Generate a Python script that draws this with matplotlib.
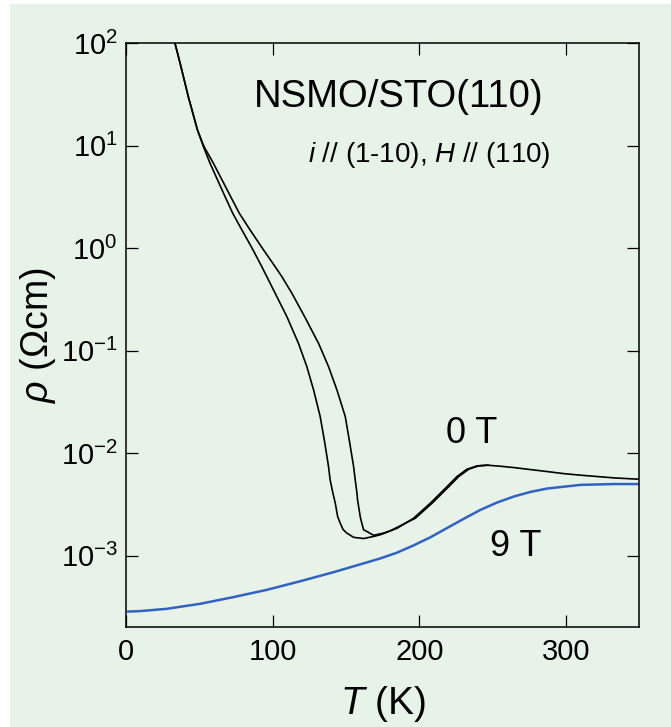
import math
import matplotlib
matplotlib.use("Agg")
import matplotlib.pyplot as plt
from matplotlib.patches import Rectangle
from matplotlib.ticker import FixedLocator, FuncFormatter, NullLocator

plt.rcParams['font.family'] = ['Liberation Sans', 'DejaVu Sans']
plt.rcParams['mathtext.fontset'] = 'custom'
plt.rcParams['mathtext.rm'] = 'Liberation Sans'
plt.rcParams['mathtext.it'] = 'Liberation Sans:italic'
plt.rcParams['mathtext.bf'] = 'Liberation Sans:bold'

# 0 T, branch with the lower transition temperature
t_0T_a = [33.4, 36.9, 42.5, 48.7, 52.8, 57.3, 67.6, 72.8, 79.0, 86.0, 92.6, 101.7, 109.7,
          117.6, 123.3, 127.9, 132.4, 135.4, 138.1, 139.2, 141.1, 142.7, 144.3, 146.1,
          148.0, 150.6, 155.2, 162.0, 168.8, 173.4, 184.8, 196.1, 207.5, 218.9, 225.7,
          232.5, 239.4, 246.2, 255.3, 264.5, 275.8, 287.2, 298.5, 310.0, 321.3, 332.8, 350.0]
rho_0T_a = [100, 63.8, 30.1, 14.3, 9.8, 6.75, 3.18, 2.19, 1.51, 1.0, 0.661, 0.364, 0.215,
            0.118, 0.070, 0.0415, 0.0228, 0.0130, 7.4e-3, 5.48e-3, 4.07e-3, 3.25e-3, 2.41e-3, 2.07e-3,
            1.8e-3, 1.66e-3, 1.51e-3, 1.47e-3, 1.54e-3, 1.6e-3, 1.85e-3, 2.32e-3, 3.25e-3, 4.72e-3, 5.92e-3,
            6.98e-3, 7.52e-3, 7.64e-3, 7.46e-3, 7.24e-3, 6.92e-3, 6.62e-3, 6.32e-3, 6.1e-3, 5.92e-3, 5.74e-3, 5.57e-3]

# 0 T, branch with the higher transition temperature
t_0T_b = [33.4, 36.9, 42.5, 48.7, 53.2, 59.6, 71.4, 77.3, 84.6, 93.0, 101.7, 106.3,
          113.1, 121.8, 131.3, 138.1, 143.8, 149.5, 152.4, 155.2, 156.3, 157.5, 157.9,
          159.7, 160.2, 162.0, 164.3, 168.8, 175.6, 180.2, 197.3, 208.7, 220.1, 226.9,
          233.7, 240.4, 247.0]
rho_0T_b = [100, 63.8, 30.1, 14.3, 9.8, 6.75, 3.18, 2.19, 1.51, 1.0, 0.661, 0.528,
            0.364, 0.215, 0.118, 0.070, 0.0415, 0.0228, 0.0130, 7.4e-3, 5.48e-3, 4.07e-3, 3.5e-3,
            2.41e-3, 2.24e-3, 1.79e-3, 1.72e-3, 1.58e-3, 1.66e-3, 1.75e-3, 2.32e-3, 3.25e-3, 4.72e-3, 5.92e-3,
            6.98e-3, 7.52e-3, 7.64e-3]

# 9 T
t_9T = [1.6, 10.0, 27.8, 50.5, 73.2, 96.0, 118.8, 141.5, 164.3, 173.4, 184.8, 196.1,
        207.5, 218.9, 230.3, 241.7, 253.0, 264.5, 275.8, 287.2, 310.0, 332.8, 350.0]
rho_9T = [2.85e-4, 2.88e-4, 3.03e-4, 3.39e-4, 3.94e-4, 4.64e-4, 5.63e-4, 6.9e-4, 8.6e-4, 9.4e-4, 1.07e-3, 1.26e-3,
          1.51e-3, 1.86e-3, 2.29e-3, 2.8e-3, 3.3e-3, 3.78e-3, 4.19e-3, 4.52e-3, 4.91e-3, 5.0e-3, 5.0e-3]

x_ticks = [0, 100, 200, 300]
y_ticks = [1e-3, 1e-2, 1e-1, 1e0, 1e1, 1e2]

bg = '#e7f3e8'
W, H = 671, 727
fig = plt.figure(figsize=(W / 100, H / 100), dpi=100, facecolor='white')
panel = Rectangle((10 / W, 0), 1 - 10 / W, 1 - 4 / H, transform=fig.transFigure,
                  facecolor=bg, edgecolor='none', zorder=-10)
fig.patches.append(panel)

ax = fig.add_axes([126 / W, 1 - 627.3 / H, 513.3 / W, 584 / H])
ax.set_facecolor(bg)

ax.plot(t_0T_a, rho_0T_a, color='black', lw=1.2)
ax.plot(t_0T_b, rho_0T_b, color='black', lw=1.2)
ax.plot(t_9T, rho_9T, color='#3262c2', lw=1.8)

ax.set_yscale('log')
ax.set_xlim(0, 350)
ax.set_ylim(2e-4, 100)
ax.xaxis.set_major_locator(FixedLocator(x_ticks))
ax.yaxis.set_major_locator(FixedLocator(y_ticks))
ax.yaxis.set_minor_locator(NullLocator())
ax.yaxis.set_major_formatter(FuncFormatter(lambda v, p: r'$\mathregular{10^{%d}}$' % round(math.log10(v))))

ax.tick_params(which='both', direction='in', top=True, right=True, length=8.5, width=0.9,
               labelsize=21, pad=6)
ax.tick_params(axis='x', pad=8)
for s in ax.spines.values():
    s.set_linewidth(1.1)

ax.set_xlabel(r'$\mathit{T}$ (K)', fontsize=28, labelpad=13)
ax.set_ylabel(r'$\mathit{\rho}$ (Ωcm)', fontsize=27, labelpad=2)

ax.text(185.7, 29.9, 'NSMO/STO(110)', fontsize=27.5, ha='center', va='center')
ax.text(289.4, 8.1, r'$\mathit{i}$ // (1-10), $\mathit{H}$ // (110)', fontsize=20, ha='right', va='center')
ax.text(235.8, 0.0156, '0 T', fontsize=26, ha='center', va='center')
ax.text(265.5, 1.22e-3, '9 T', fontsize=26, ha='center', va='center')

fig.savefig('out.png', dpi=100, facecolor='white')
